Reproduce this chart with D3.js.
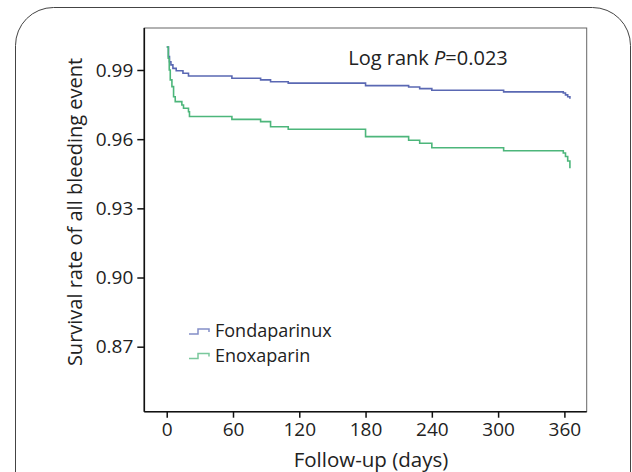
<!DOCTYPE html>
<html>
<head>
<meta charset="utf-8">
<script src="https://cdn.jsdelivr.net/npm/d3@7"></script>
<style>
  body { margin: 0; background: #fff; }
  svg text { font-family: "Open Sans", "Noto Sans", sans-serif; fill: #222; }
</style>
</head>
<body>
<div id="chart"></div>
<script>
// follow-up days and survival values (step after)
const FONDA_DAYS = [0, 1.6, 2.5, 3.8, 5.6, 8.6, 14.7, 19.7, 59, 85, 94, 110, 180, 219, 229, 240, 305, 359, 361, 363, 365];
const FONDA_SURV = [1.0, 0.9958, 0.9936, 0.9922, 0.9907, 0.9897, 0.9886, 0.9874, 0.9864, 0.9857, 0.9849, 0.9843, 0.9832, 0.9826, 0.9819, 0.9812, 0.9805, 0.9800, 0.9792, 0.9784, 0.9775];
const ENOXA_DAYS = [0, 1.4, 2.3, 3.2, 4.7, 6.2, 7.7, 13.7, 15.2, 19.7, 20.6, 59, 85, 94, 110, 180, 219, 229, 240, 305, 359, 361, 363, 365];
const ENOXA_SURV = [1.0, 0.9951, 0.9900, 0.9857, 0.9828, 0.9784, 0.9763, 0.9748, 0.9734, 0.9719, 0.9698, 0.9686, 0.9676, 0.9654, 0.9643, 0.9611, 0.9595, 0.9582, 0.9563, 0.9550, 0.9540, 0.9525, 0.9505, 0.9474];

const SERIES = ["Fondaparinux", "Enoxaparin"];
const X_TICKS = [0, 60, 120, 180, 240, 300, 360];
const Y_TICKS = [0.87, 0.90, 0.93, 0.96, 0.99];

const fonda = FONDA_DAYS.map((d, i) => ({ day: d, surv: FONDA_SURV[i] }));
const enoxa = ENOXA_DAYS.map((d, i) => ({ day: d, surv: ENOXA_SURV[i] }));
const curves = [fonda, enoxa];

const W = 632, H = 472;
const margin = { top: 28, right: 45.3, bottom: 60.3, left: 144.3 },
  width = W - margin.left - margin.right,
  height = H - margin.top - margin.bottom;

var color = d3.scaleOrdinal().domain(SERIES).range(["#5a68b3", "#4db67b"]);

var svg = d3.select("#chart")
  .append("svg")
  .attr("width", W)
  .attr("height", H);

// outer rounded frame (runs off the bottom)
svg.append("rect")
  .attr("x", 15.5).attr("y", 7.5)
  .attr("width", 615).attr("height", 520)
  .attr("rx", 38).attr("ry", 38)
  .attr("fill", "none")
  .attr("stroke", "#444")
  .attr("stroke-width", 1);

var g = svg.append("g")
  .attr("transform", "translate(" + margin.left + "," + margin.top + ")");

var x = d3.scaleLinear().domain([-20.3, 380.2]).range([0, width]);
var y = d3.scaleLinear().domain([0.84181, 1.00821]).range([height, 0]);

// plot box
g.append("rect")
  .attr("width", width).attr("height", height)
  .attr("fill", "none")
  .attr("stroke", "#666")
  .attr("stroke-width", 1);

var xAxis = g.append("g")
  .attr("transform", "translate(0," + height + ")")
  .call(d3.axisBottom(x).tickValues(X_TICKS).tickSize(6).tickPadding(5).tickFormat(d3.format("d")));

var yAxis = g.append("g")
  .call(d3.axisLeft(y).tickValues(Y_TICKS).tickSize(7).tickPadding(4).tickFormat(d3.format(".2f")));

[xAxis, yAxis].forEach(a => {
  a.select(".domain").attr("stroke", "#111").attr("stroke-width", 1.6);
  a.selectAll(".tick line").attr("stroke", "#111").attr("stroke-width", 1.5);
  a.selectAll("text")
    .style("font-family", "Open Sans")
    .style("font-size", "19px")
    .attr("fill", "#222");
});
// axisBottom domain draws outer ticks; keep it flat
xAxis.select(".domain").attr("d", "M0,0H" + width);
yAxis.select(".domain").attr("d", "M0,0V" + height);

var line = d3.line()
  .x(d => x(d.day))
  .y(d => y(d.surv))
  .curve(d3.curveStepAfter);

g.selectAll("path.km")
  .data(curves)
  .enter()
  .append("path")
  .classed("km", true)
  .attr("d", line)
  .attr("fill", "none")
  .attr("stroke", (d, i) => color(SERIES[i]))
  .attr("stroke-width", 1.6);

// axis titles
svg.append("text")
  .attr("x", 371)
  .attr("y", 467)
  .style("text-anchor", "middle")
  .style("font-size", "20.5px")
  .text("Follow-up (days)");

svg.append("text")
  .attr("transform", "translate(82,212) rotate(-90)")
  .style("text-anchor", "middle")
  .style("font-size", "20px")
  .text("Survival rate of all bleeding event");

// log rank annotation
var note = svg.append("text")
  .attr("x", 428)
  .attr("y", 65)
  .style("text-anchor", "middle")
  .style("font-size", "20px");
note.append("tspan").text("Log rank ");
note.append("tspan").style("font-style", "italic").text("P");
note.append("tspan").text("=0.023");

// legend
var legend = svg.append("g").attr("transform", "translate(189,325)");
var item = legend.selectAll("g.item")
  .data(SERIES)
  .enter()
  .append("g")
  .classed("item", true)
  .attr("transform", (d, i) => "translate(0," + i * 24.5 + ")");

item.append("path")
  .attr("d", "M0,9H9V4H20V7")
  .attr("fill", "none")
  .attr("stroke", d => color(d))
  .attr("stroke-opacity", 0.75)
  .attr("stroke-width", 1.5);

item.append("text")
  .attr("x", 26)
  .attr("y", 6)
  .attr("dy", "0.35em")
  .style("font-size", "18px")
  .text(d => d);
</script>
</body>
</html>
